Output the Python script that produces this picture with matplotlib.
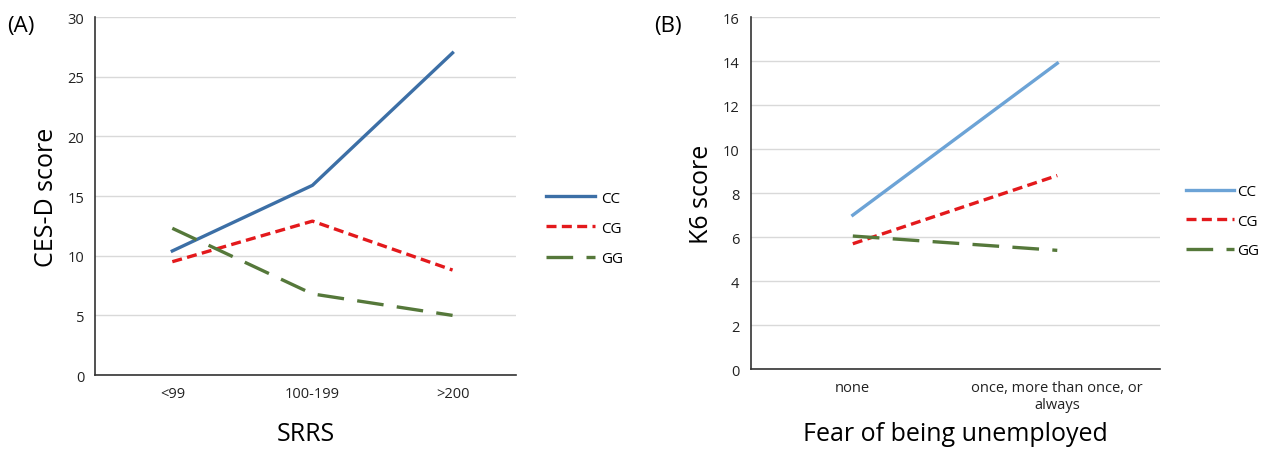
import matplotlib
matplotlib.use('Agg')
import matplotlib.pyplot as plt
import numpy as np

plt.rcParams['font.family'] = ['Open Sans', 'DejaVu Sans']

# panel A data
srrs_cats = ["<99", "100-199", ">200"]
a_cc = [10.4, 15.9, 27.0]
a_cg = [9.5, 12.9, 8.8]
a_gg = [12.3, 6.8, 5.0]

# panel B data
fear_cats = ["none", "once, more than once, or\nalways"]
b_cc = [7.0, 13.9]
b_cg = [5.7, 8.8]
b_gg = [6.05, 5.4]

red = "#e3191c"
green = "#55783a"

fig = plt.figure(figsize=(12.7, 4.52), dpi=100)
axA = fig.add_axes([0.075, 0.168, 0.331, 0.792])
axB = fig.add_axes([0.591, 0.181, 0.322, 0.779])


def style(ax, ymax, step):
    ax.set_ylim(0, ymax)
    ax.set_yticks(np.arange(0, ymax + 1, step))
    ax.grid(axis='y', color='#d9d9d9', lw=1)
    ax.set_axisbelow(True)
    for s in ['top', 'right']:
        ax.spines[s].set_visible(False)
    for s in ['left', 'bottom']:
        ax.spines[s].set_color('#333333')
        ax.spines[s].set_linewidth(1.2)
    ax.tick_params(length=0, labelsize=10.5, pad=8, labelcolor='#222222')


xa = np.arange(len(srrs_cats))
axA.plot(xa, a_cc, color="#3c6fa6", lw=2.4, label="CC")
axA.plot(xa, a_cg, color=red, lw=2.4, dashes=(3, 1.6), label="CG")
axA.plot(xa, a_gg, color=green, lw=2.4, dashes=(8, 4), label="GG")
axA.set_xlim(-0.55, 2.45)
axA.set_xticks(xa)
axA.set_xticklabels(srrs_cats)
style(axA, 30, 5)
axA.set_ylabel("CES-D score", fontsize=18, labelpad=6)
axA.set_xlabel("SRRS", fontsize=18, labelpad=14)
axA.legend(loc='center left', bbox_to_anchor=(1.04, 0.41), frameon=False,
           fontsize=11, handlelength=3.2, handletextpad=0.4, labelspacing=1.0)
fig.text(0.006, 0.93, "(A)", fontsize=16)

xb = np.arange(len(fear_cats))
axB.plot(xb, b_cc, color="#6ca3d6", lw=2.4, label="CC")
axB.plot(xb, b_cg, color=red, lw=2.4, dashes=(3, 1.6), label="CG")
axB.plot(xb, b_gg, color=green, lw=2.4, dashes=(8, 4), label="GG")
axB.set_xlim(-0.5, 1.5)
axB.set_xticks(xb)
axB.set_xticklabels(fear_cats)
style(axB, 16, 2)
axB.set_ylabel("K6 score", fontsize=18, labelpad=6)
axB.set_xlabel("Fear of being unemployed", fontsize=18, labelpad=6)
axB.legend(loc='center left', bbox_to_anchor=(1.03, 0.42), frameon=False,
           fontsize=11, handlelength=3.2, handletextpad=0.2, labelspacing=0.95)
fig.text(0.515, 0.93, "(B)", fontsize=16)

plt.savefig('out.png')
